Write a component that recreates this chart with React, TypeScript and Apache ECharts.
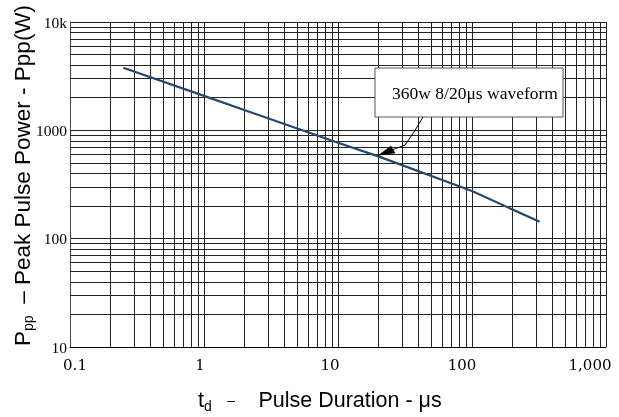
import React, { useEffect, useRef } from "react";
import * as echarts from "echarts";

// Pulse duration (µs) and peak pulse power (W)
const durations = [0.25, 1, 10, 20, 100, 320];
const powers = [3780, 2080, 767, 575, 275, 143];

// Axis tick values and their labels
const xTickValues = [0.1, 1, 10, 100, 1000];
const xTickLabels = ["0.1", "1", "10", "100", "1,000"];
const yTickValues = [10, 100, 1000, 10000];
const yTickLabels = ["10", "100", "1000", "10k"];

// Decades used for minor grid lines
const xDecades = [0.1, 1, 10, 100];
const yDecades = [10, 100, 1000];
const minorMultipliers = [2, 3, 4, 5, 6, 7, 8, 9];

const annotationText = "360w 8/20μs waveform";

export default function App() {
  const ref = useRef<HTMLDivElement>(null);

  useEffect(() => {
    if (!ref.current) return;
    const chart = echarts.init(ref.current, null, { renderer: "svg" });

    const gridColor = "#222";
    const minorX: any[] = [];
    xDecades.forEach((d) => minorMultipliers.forEach((m) => minorX.push({ xAxis: +(d * m).toPrecision(6) })));
    const minorY: any[] = [];
    yDecades.forEach((d) => minorMultipliers.forEach((m) => minorY.push({ yAxis: +(d * m).toPrecision(6) })));

    const idxOf = (vals: number[], v: number) =>
      vals.findIndex((t) => Math.abs(Math.log10(t) - Math.log10(v)) < 1e-6);

    const serifX = "'DejaVu Serif', serif";
    const serifY = "'Liberation Serif', 'Times New Roman', serif";
    const sans = "'Liberation Sans', Arial, sans-serif";

    // small horizontal nudges of the x labels, as in the reference
    const xPads = [
      [0, 0, 0, 10],
      [0, 8, 0, 0],
      [0, 16, 0, 0],
      [0, 20, 0, 0],
      [0, 32, 0, 0],
    ];
    const xRich: any = {};
    xPads.forEach((p, i) => {
      xRich["l" + i] = { fontFamily: serifX, fontSize: 15, color: "#000", padding: p };
    });

    const makeRich = (size: number) => ({
      a: { fontFamily: sans, fontSize: size, color: "#000", lineHeight: 26 },
      s: { fontFamily: sans, fontSize: 14, color: "#000", lineHeight: 15, verticalAlign: "bottom" as const },
      g: { fontFamily: sans, fontSize: 14, color: "#666", lineHeight: 26 },
      d: { fontFamily: sans, fontSize: size, color: "#666", lineHeight: 26 },
    });

    chart.setOption({
      animation: false,
      grid: { left: 70, right: 13, top: 22, bottom: 70, containLabel: false },
      xAxis: {
        type: "log",
        logBase: 10,
        min: 0.1,
        max: 1000,
        axisLine: { show: true, lineStyle: { color: "#000", width: 1 } },
        axisTick: { show: false },
        splitLine: { show: true, lineStyle: { color: gridColor, width: 1 } },
        axisLabel: {
          formatter: (v: number) => {
            const i = idxOf(xTickValues, v);
            return i >= 0 ? `{l${i}|${xTickLabels[i]}}` : "";
          },
          rich: xRich,
          fontFamily: serifX,
          fontSize: 15,
          color: "#000",
          margin: 10,
        },
      },
      yAxis: {
        type: "log",
        logBase: 10,
        min: 10,
        max: 10000,
        axisLine: { show: true, lineStyle: { color: "#444", width: 1 } },
        axisTick: { show: false },
        splitLine: { show: true, lineStyle: { color: gridColor, width: 1 } },
        axisLabel: {
          formatter: (v: number) => {
            const i = idxOf(yTickValues, v);
            return i >= 0 ? yTickLabels[i] : "";
          },
          fontFamily: serifY,
          fontSize: 15.5,
          color: "#000",
          margin: 3,
        },
      },
      series: [
        {
          type: "line",
          name: "grid",
          data: [],
          silent: true,
          markLine: {
            silent: true,
            symbol: "none",
            label: { show: false },
            lineStyle: { color: gridColor, width: 1, type: "solid" },
            data: [...minorX, ...minorY],
          },
        },
        {
          type: "line",
          name: "Ppp",
          data: durations.map((d, i) => [d, powers[i]]),
          showSymbol: false,
          smooth: false,
          lineStyle: { color: "#234a6e", width: 2.2 },
          z: 5,
        },
      ],
      graphic: [
        {
          type: "rect",
          shape: { x: 375, y: 68, width: 188, height: 49 },
          style: { fill: "#fff", stroke: "#555", lineWidth: 1 },
          z: 100,
        },
        {
          type: "text",
          x: 475,
          y: 93,
          style: {
            text: annotationText,
            fontFamily: serifY,
            fontSize: 17.5,
            fill: "#000",
            align: "center",
            verticalAlign: "middle",
          },
          z: 101,
        },
        {
          type: "polyline",
          shape: { points: [[423, 117], [414, 132], [405, 145], [392, 150]] },
          style: { stroke: "#000", lineWidth: 1, fill: "none" },
          z: 100,
        },
        {
          type: "polygon",
          shape: { points: [[378, 155.5], [391, 146], [395, 153]] },
          style: { fill: "#000", stroke: "#000", lineWidth: 0.5 },
          z: 100,
        },
        {
          type: "text",
          x: 198,
          y: 400,
          style: {
            text: "{a|t}{s|d}{g|    –      }{a|Pulse Duration - μs}",
            rich: makeRich(21.5),
            align: "left",
            verticalAlign: "middle",
          },
        },
        {
          type: "text",
          x: 22,
          y: 346,
          rotation: Math.PI / 2,
          style: {
            text: "{a|P}{s|pp}{g|   }{d|–}{a| Peak Pulse Power - Ppp(W)}",
            rich: makeRich(22.5),
            align: "left",
            verticalAlign: "middle",
          },
        },
      ],
    });

    return () => chart.dispose();
  }, []);

  return (
    <div
      ref={ref}
      style={{ position: "fixed", left: 0, top: 0, width: 619, height: 417 }}
    />
  );
}
